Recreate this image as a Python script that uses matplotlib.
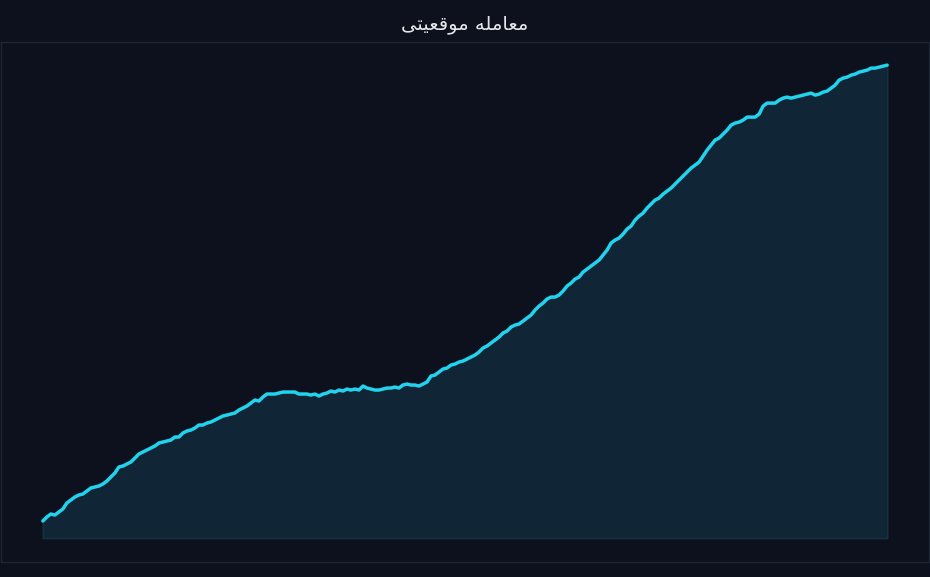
import matplotlib.pyplot as plt

# equity curve (one sample per step)
values = [17, 21, 24, 23, 26, 29, 35, 38, 41, 43, 44, 47, 50, 51, 52, 54, 57, 61, 65, 71,
          72, 74, 76, 80, 84, 86, 88, 90, 92, 95, 96, 97, 98, 101, 101, 105, 107, 108, 110, 113,
          113, 115, 116, 118, 120, 122, 123, 124, 125, 128, 130, 132, 135, 138, 137, 141, 144, 144, 144, 145,
          146, 146, 146, 146, 144, 144, 144, 143, 144, 142, 144, 145, 147, 146, 148, 147, 149, 148, 149, 148,
          152, 150, 149, 148, 148, 149, 150, 150, 151, 150, 153, 154, 153, 153, 152, 154, 156, 162, 163, 166,
          169, 170, 173, 174, 176, 177, 179, 181, 183, 186, 190, 192, 195, 198, 201, 205, 207, 211, 213, 214,
          217, 220, 223, 228, 232, 235, 239, 241, 241, 243, 247, 252, 255, 259, 261, 266, 269, 272, 275, 278,
          283, 288, 295, 298, 300, 304, 309, 312, 318, 322, 325, 330, 334, 338, 340, 344, 347, 350, 354, 358,
          362, 366, 370, 373, 376, 382, 388, 393, 398, 400, 404, 408, 413, 415, 416, 418, 421, 421, 421, 424,
          432, 435, 435, 435, 438, 440, 441, 440, 441, 442, 443, 444, 445, 443, 444, 446, 447, 450, 453, 458,
          460, 461, 463, 464, 466, 467, 468, 470, 470, 471, 472, 473]
steps = list(range(len(values)))

# "معامله موقعیتی" as presentation forms, reversed for left-to-right drawing
title_forms = "\ufee3\ufecc\ufe8e\ufee3\ufee0\ufeea \ufee3\ufeee\ufed7\ufecc\ufbff\ufe98\ufbfd"
title = title_forms[::-1]

bg = "#0c111d"
fig = plt.figure(figsize=(9.3, 5.77), dpi=100, facecolor=bg)
ax = fig.add_axes([0.001, 0.026, 0.998, 0.901], facecolor=bg)

ax.fill_between(steps, values, 0, facecolor="#102535", edgecolor="#153041", linewidth=1.2)
ax.plot(steps, values, color="#22d3ee", linewidth=2.5, solid_capstyle="round")

n = len(values) - 1
pad = n * 42 / 846
ax.set_xlim(-pad, n + pad)
ax.set_ylim(-24, 496)
ax.set_xticks([])
ax.set_yticks([])
for s in ax.spines.values():
    s.set_color("#1e2535")
    s.set_linewidth(1)

fig.text(0.5, 0.958, title, ha="center", va="center", color="#e5e7eb",
         fontsize=14, family=["DejaVu Sans"])

fig.savefig("out.png", dpi=100, facecolor=bg)
